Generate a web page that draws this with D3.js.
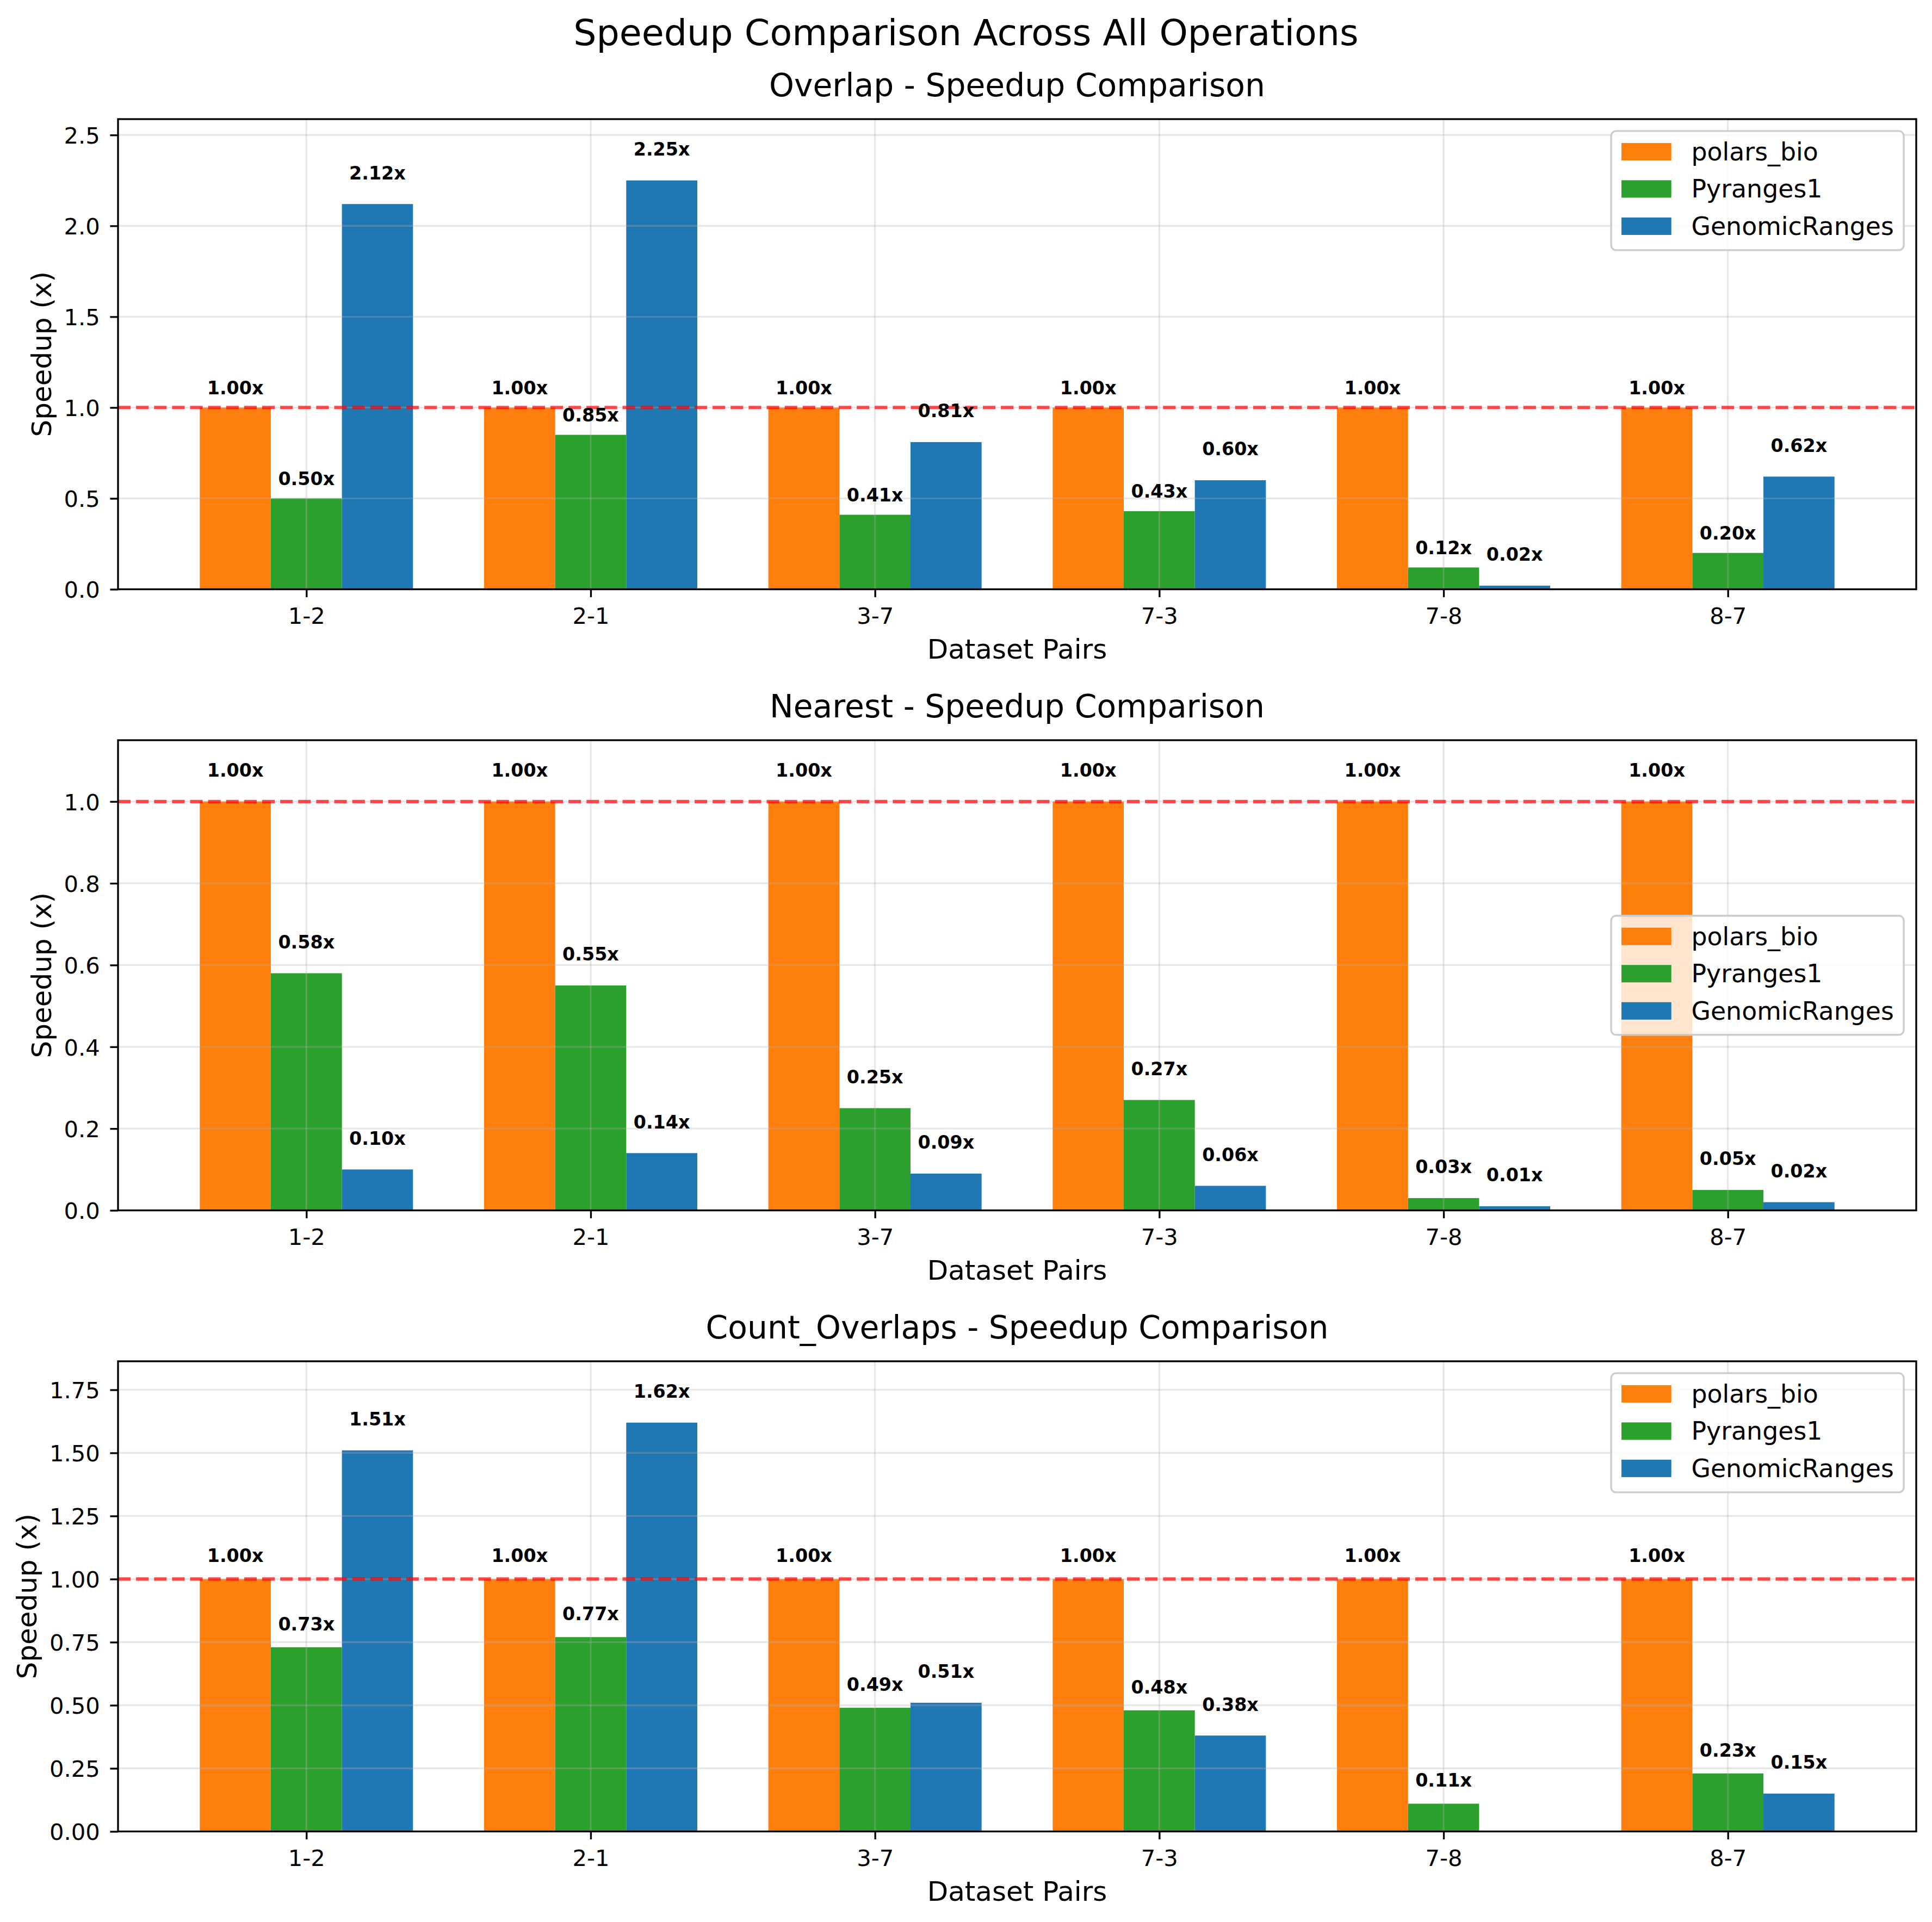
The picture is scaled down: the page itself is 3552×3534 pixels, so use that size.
<!DOCTYPE html>
<html>
<head>
<meta charset="utf-8">
<script src="https://cdn.jsdelivr.net/npm/d3@7"></script>
<style>
  body { margin: 0; background: #fff; }
  text { font-family: "DejaVu Sans", sans-serif; }
</style>
</head>
<body>
<svg id="chart"></svg>
<script>
// Data
const pairs = ["1-2", "2-1", "3-7", "7-3", "7-8", "8-7"];
const methods = ["polars_bio", "Pyranges1", "GenomicRanges"];
const methodColors = ["#ff7f0e", "#2ca02c", "#1f77b4"];
const operations = ["Overlap", "Nearest", "Count_Overlaps"];

const overlapPolars = [1.00, 1.00, 1.00, 1.00, 1.00, 1.00];
const overlapPyranges = [0.50, 0.85, 0.41, 0.43, 0.12, 0.20];
const overlapGenomic = [2.12, 2.25, 0.81, 0.60, 0.02, 0.62];

const nearestPolars = [1.00, 1.00, 1.00, 1.00, 1.00, 1.00];
const nearestPyranges = [0.58, 0.55, 0.25, 0.27, 0.03, 0.05];
const nearestGenomic = [0.10, 0.14, 0.09, 0.06, 0.01, 0.02];

const countPolars = [1.00, 1.00, 1.00, 1.00, 1.00, 1.00];
const countPyranges = [0.73, 0.77, 0.49, 0.48, 0.11, 0.23];
const countGenomic = [1.51, 1.62, 0.51, 0.38, null, 0.15];

const overlapTicks = [0, 0.5, 1.0, 1.5, 2.0, 2.5];
const nearestTicks = [0, 0.2, 0.4, 0.6, 0.8, 1.0];
const countTicks = [0, 0.25, 0.5, 0.75, 1.0, 1.25, 1.5, 1.75];

const panels = [
  {op: operations[0], series: [overlapPolars, overlapPyranges, overlapGenomic], ticks: overlapTicks, fmt: ".1f", legend: "upper right"},
  {op: operations[1], series: [nearestPolars, nearestPyranges, nearestGenomic], ticks: nearestTicks, fmt: ".1f", legend: "center right"},
  {op: operations[2], series: [countPolars, countPyranges, countGenomic], ticks: countTicks, fmt: ".2f", legend: "upper right"}
];

// Figure geometry (12x12 in at 300 dpi, trimmed)
const W = 3552, H = 3534;
const pt = 300 / 72;
const axLeft = 217, axRight = 3523, axHeight = 864.5;
const axTops = [219, 1361, 2503];
const w = axRight - axLeft;
const barW = 0.25;

const svg = d3.select("#chart")
    .attr("width", W)
    .attr("height", H)
    .attr("viewBox", `0 0 ${W} ${H}`);

svg.append("rect").attr("width", W).attr("height", H).attr("fill", "#fff");

svg.append("text")
    .attr("x", W / 2)
    .attr("y", 83)
    .attr("text-anchor", "middle")
    .attr("font-size", 16 * pt)
    .text("Speedup Comparison Across All Operations");

panels.forEach((p, pi) => {
    const g = svg.append("g").attr("transform", `translate(${axLeft},${axTops[pi]})`);

    const n = pairs.length;
    const lo = -1.5 * barW, hi = (n - 1) + 1.5 * barW;
    const pad = (hi - lo) * 0.05;
    const x = d3.scaleLinear().domain([lo - pad, hi + pad]).range([0, w]);

    const allVals = p.series.flat().filter(v => v != null);
    const y = d3.scaleLinear().domain([0, 1.15 * d3.max(allVals)]).range([axHeight, 0]);

    // Bars
    p.series.forEach((vals, si) => {
        const shift = (si - 1) * barW;
        g.append("g").selectAll("rect")
            .data(vals.map((v, i) => ({v, i})).filter(d => d.v != null))
            .enter()
            .append("rect")
            .attr("x", d => x(d.i + shift - barW / 2))
            .attr("y", d => y(d.v))
            .attr("width", x(barW) - x(0))
            .attr("height", d => y(0) - y(d.v))
            .attr("fill", methodColors[si]);
    });

    // Grid lines (above bars, like matplotlib)
    const grid = g.append("g").attr("stroke", "#b0b0b0").attr("stroke-opacity", 0.3).attr("stroke-width", 0.8 * pt);
    grid.selectAll(".gx").data(d3.range(n)).enter().append("line")
        .attr("x1", d => x(d)).attr("x2", d => x(d))
        .attr("y1", 0).attr("y2", axHeight);
    grid.selectAll(".gy").data(p.ticks).enter().append("line")
        .attr("x1", 0).attr("x2", w)
        .attr("y1", d => y(d)).attr("y2", d => y(d));

    // Baseline at 1.0
    g.append("line")
        .attr("x1", 0).attr("x2", w)
        .attr("y1", y(1)).attr("y2", y(1))
        .attr("stroke", "red")
        .attr("stroke-opacity", 0.7)
        .attr("stroke-width", 1.5 * pt)
        .attr("stroke-dasharray", `${3.7 * 1.5 * pt},${1.6 * 1.5 * pt}`);

    // Value labels
    p.series.forEach((vals, si) => {
        const shift = (si - 1) * barW;
        const off = 0.05 * Math.max(1, d3.max(vals.filter(v => v != null)));
        g.append("g").selectAll("text")
            .data(vals.map((v, i) => ({v, i})).filter(d => d.v != null))
            .enter()
            .append("text")
            .attr("x", d => x(d.i + shift))
            .attr("y", d => y(d.v + off) - 8)
            .attr("text-anchor", "middle")
            .attr("font-size", 8 * pt)
            .attr("font-weight", "bold")
            .text(d => d.v.toFixed(2) + "x");
    });

    // Axes
    const xAxis = g.append("g")
        .attr("transform", `translate(0,${axHeight})`)
        .call(d3.axisBottom(x).tickValues(d3.range(n)).tickFormat(i => pairs[i]).tickSize(3.5 * pt));
    xAxis.select(".domain").remove();
    xAxis.selectAll(".tick line").attr("stroke-width", 0.8 * pt);
    xAxis.selectAll(".tick text")
        .attr("y", 63).attr("dy", 0)
        .attr("font-size", 10 * pt)
        .attr("font-family", "DejaVu Sans")
        .attr("fill", "#000");

    const yAxis = g.append("g")
        .call(d3.axisLeft(y).tickValues(p.ticks).tickFormat(d3.format(p.fmt)).tickSize(3.5 * pt).tickPadding(3.5 * pt + 4));
    yAxis.select(".domain").remove();
    yAxis.selectAll(".tick line").attr("stroke-width", 0.8 * pt);
    yAxis.selectAll(".tick text")
        .attr("dy", 15.4)
        .attr("font-size", 10 * pt)
        .attr("font-family", "DejaVu Sans")
        .attr("fill", "#000");

    let maxW = 0;
    yAxis.selectAll(".tick text").each(function() { maxW = Math.max(maxW, this.getComputedTextLength()); });

    // Spines
    g.append("rect")
        .attr("width", w).attr("height", axHeight)
        .attr("fill", "none").attr("stroke", "#000").attr("stroke-width", 0.8 * pt);

    // Titles and labels
    g.append("text")
        .attr("x", w / 2).attr("y", -42.5)
        .attr("text-anchor", "middle")
        .attr("font-size", 14 * pt)
        .text(`${p.op} - Speedup Comparison`);

    g.append("text")
        .attr("x", w / 2).attr("y", axHeight + 127)
        .attr("text-anchor", "middle")
        .attr("font-size", 12 * pt)
        .text("Dataset Pairs");

    const labX = -(3.5 * pt + 4 + 3.5 * pt) - maxW - 4 * pt - 7;
    g.append("text")
        .attr("transform", `translate(${labX},${axHeight / 2}) rotate(-90)`)
        .attr("text-anchor", "middle")
        .attr("font-size", 12 * pt)
        .text("Speedup (x)");

    // Legend
    const fs = 11 * pt;
    const legW = 538, legH = 219;
    const lx = w - 0.5 * fs - legW;
    const ly = p.legend === "upper right" ? 0.5 * fs - 1 : (axHeight - legH) / 2;
    const legend = g.append("g").attr("transform", `translate(${lx},${ly})`);
    legend.append("rect")
        .attr("width", legW).attr("height", legH)
        .attr("rx", 0.2 * fs).attr("ry", 0.2 * fs)
        .attr("fill", "#fff").attr("fill-opacity", 0.8)
        .attr("stroke", "#cccccc").attr("stroke-width", 0.8 * pt);
    const rows = legend.selectAll(".row")
        .data(methods)
        .enter()
        .append("g")
        .attr("transform", (d, i) => `translate(0,${38 + i * 68.5})`);
    rows.append("rect")
        .attr("x", 19).attr("y", -0.35 * fs)
        .attr("width", 2 * fs).attr("height", 0.7 * fs)
        .attr("fill", (d, i) => methodColors[i]);
    rows.append("text")
        .attr("x", 19 + 2.8 * fs).attr("y", 16)
        .attr("font-size", fs)
        .text(d => d);
});
</script>
</body>
</html>
